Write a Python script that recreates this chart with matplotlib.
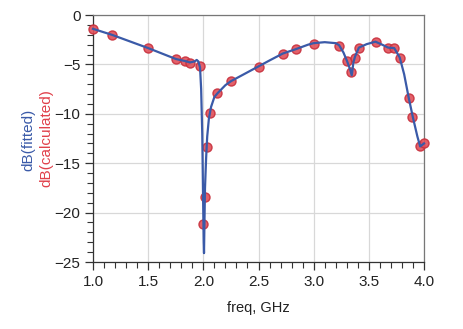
import matplotlib
matplotlib.use("Agg")
import matplotlib.pyplot as plt
from matplotlib.ticker import MultipleLocator

plt.rcParams['font.family'] = ['Liberation Sans', 'DejaVu Sans']

# Calculated (marker) data
calc_freq = [1.0, 1.17, 1.50, 1.75, 1.83, 1.88, 1.966, 2.0, 2.015, 2.03, 2.06, 2.127,
             2.25, 2.505, 2.725, 2.84, 3.0, 3.227, 3.30, 3.34, 3.375, 3.41, 3.563,
             3.675, 3.73, 3.78, 3.86, 3.895, 3.965, 4.0]
calc_db = [-1.45, -2.02, -3.37, -4.49, -4.66, -4.82, -5.13, -21.2, -18.4, -13.4, -9.9, -7.93,
           -6.68, -5.23, -3.91, -3.47, -2.9, -3.1, -4.66, -5.73, -4.32, -3.31, -2.70,
           -3.31, -3.31, -4.39, -8.37, -10.3, -13.3, -12.96]

# Fitted curve
fit_freq = [1.0, 1.17, 1.5, 1.75, 1.83, 1.88, 1.92, 1.94, 1.955, 1.97, 1.98, 1.99, 1.997,
            2.003, 2.006, 2.01, 2.015, 2.025, 2.035, 2.05, 2.07, 2.1, 2.13, 2.2, 2.25, 2.4,
            2.5, 2.6, 2.72, 2.84, 2.95, 3.0, 3.1, 3.2, 3.23, 3.27, 3.3, 3.33, 3.345, 3.36,
            3.375, 3.41, 3.48, 3.56, 3.62, 3.675, 3.73, 3.78, 3.82, 3.86, 3.9, 3.94, 3.965, 4.0]
fit_db = [-1.4, -2.0, -3.35, -4.45, -4.65, -4.8, -4.7, -4.55, -4.7, -5.3, -7.5, -12.0, -18.0,
          -23.0, -24.1, -21.0, -17.5, -14.5, -12.3, -10.5, -9.3, -8.3, -7.9, -7.1, -6.7, -5.8,
          -5.2, -4.6, -3.9, -3.45, -3.0, -2.85, -2.75, -2.85, -3.05, -3.8, -4.6, -5.5, -6.1, -4.8,
          -4.2, -3.3, -2.95, -2.7, -3.0, -3.3, -3.35, -4.3, -6.0, -8.3, -10.4, -12.3, -13.3, -13.0]

fig = plt.figure(figsize=(4.63, 3.29), dpi=100)
ax = fig.add_axes([0.2009, 0.2036, 0.9158 - 0.2009, 0.9544 - 0.2036])

ax.plot(calc_freq, calc_db, linestyle='none', marker='o', markersize=6.5,
        markerfacecolor='#e0505a', markeredgecolor='#c8303c', markeredgewidth=1.0,
        alpha=0.9, zorder=3, clip_on=False)
ax.plot(fit_freq, fit_db, color='#3a5aa8', linewidth=1.6, zorder=4, clip_on=False)

ax.set_xlim(1.0, 4.0)
ax.set_ylim(-25, 0)
ax.xaxis.set_major_locator(MultipleLocator(0.5))
ax.xaxis.set_minor_locator(MultipleLocator(0.1))
ax.yaxis.set_major_locator(MultipleLocator(5))
ax.yaxis.set_minor_locator(MultipleLocator(1))
ax.set_xticks([1.0, 1.5, 2.0, 2.5, 3.0, 3.5, 4.0])
ax.set_xticklabels(['1.0', '1.5', '2.0', '2.5', '3.0', '3.5', '4.0'])
ax.grid(True, which='major', color='#d8d8d8', linewidth=0.9)
ax.set_axisbelow(True)

ax.tick_params(which='major', direction='out', length=6, width=0.9, color='#333333',
               labelsize=11, labelcolor='#222222', pad=3)
ax.tick_params(which='minor', direction='out', length=4, width=0.8, color='#333333')

for s in ['left', 'bottom']:
    ax.spines[s].set_color('#333333')
    ax.spines[s].set_linewidth(0.9)
for s in ['top', 'right']:
    ax.spines[s].set_color('#777777')
    ax.spines[s].set_linewidth(0.9)

ax.set_xlabel('freq, GHz', fontsize=10.5, color='#222222', labelpad=9)

fig.text(28 / 463, 1 - 140 / 329, 'dB(fitted)', rotation=90, color='#3a5aa8',
         fontsize=11, ha='center', va='center')
fig.text(46 / 463, 1 - 138 / 329, 'dB(calculated)', rotation=90, color='#e0404a',
         fontsize=11, ha='center', va='center')

fig.savefig('out.png', dpi=100)
